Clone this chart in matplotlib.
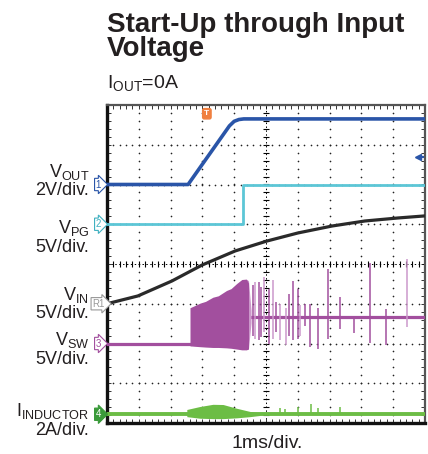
import numpy as np
import matplotlib.pyplot as plt

plt.rcParams['font.family'] = ['Liberation Sans', 'DejaVu Sans']
plt.rcParams['mathtext.fontset'] = 'custom'
plt.rcParams['mathtext.rm'] = 'Liberation Sans'
plt.rcParams['mathtext.it'] = 'Liberation Sans:italic'

# time in ms from the left edge of the screen (1 ms/div)
vout_t = [0, 2.55, 3.85, 4.0, 4.15, 4.3, 10]
vout_v = [0, 0, 2.95, 3.18, 3.27, 3.3, 3.3]

vpg_t = [0, 4.27, 4.27, 10]
vpg_v = [0, 0, 4.9, 4.9]

vin_t = [0.0, 0.97, 2.04, 2.99, 4.03, 5.03, 6.0, 7.08, 8.11, 9.15, 10.0]
vin_v = [0.0, 0.98, 2.86, 4.87, 6.64, 7.89, 8.9, 9.78, 10.41, 10.79, 11.05]

# switch node: quiet, dense switching burst, then settled with pulses
vsw_pre_t = [0, 2.61]
vsw_pre_v = [0, 0]
burst_t = [2.61, 2.75, 2.92, 3.1, 3.33, 3.5, 3.76, 3.9, 4.08, 4.24, 4.38, 4.45]
burst_top = [4.5, 4.75, 5.07, 5.3, 5.82, 6.0, 6.67, 6.9, 7.55, 8.05, 8.1, 7.6]
burst_bot = [-0.3, -0.35, -0.4, -0.45, -0.5, -0.5, -0.55, -0.6, -0.7, -0.8, -0.8, -0.7]
tail_t = [4.38, 4.45, 4.53]
tail_top = [8.1, 7.9, 4.2]
tail_bot = [-0.8, -0.6, 2.6]
vsw_post_t = [4.45, 10]
vsw_post_v = [3.35, 3.35]
spk_t = [4.59, 4.66, 4.77, 4.85, 4.93, 5.08, 5.22, 5.30, 5.43, 5.62, 5.72,
         5.85, 6.01, 6.06, 6.22, 6.39, 6.64, 6.95, 7.34, 7.76, 8.26, 8.78, 9.43]
spk_top = [7.30, 7.71, 7.71, 7.09, 8.34, 6.88, 8.05, 5.20, 4.99, 4.44, 6.25,
           7.80, 6.88, 4.78, 4.99, 4.99, 4.44, 9.39, 5.83, 3.40, 10.15, 4.36, 10.65]
spk_bot = [1.0, 0.59, 0.38, 0.80, 1.43, -0.04, 0.59, 1.43, 0.38, -0.25, 1.0,
           0.38, 0.59, 1.0, 2.26, -0.46, -0.67, 0.59, 1.84, 1.34, 0.08, -0.17, 2.05]
spk_light = [0, 1, 0, 0, 1, 0, 1, 0, 1, 1, 0, 0, 0, 1, 0, 0, 0, 0, 0, 0, 0, 0, 1]

# inductor current (A)
il_t = [0, 10]
il_a = [0, 0]
bump_t = [2.51, 2.92, 3.33, 3.65, 4.08, 4.5, 4.81]
bump_top = [0.24, 0.39, 0.50, 0.49, 0.30, 0.14, 0.05]
bump_bot = [-0.12, -0.2, -0.22, -0.22, -0.18, -0.12, -0.06]
il_spk_t = [5.44, 5.6, 6.0, 6.41, 6.64, 7.33]
il_spk_a = [0.3, 0.25, 0.35, 0.5, 0.3, 0.38]

# channel offset (div) and scale (unit/div)
ch = {
    'vout': (2.0, 2.0),
    'vpg': (1.0, 5.0),
    'vin': (-1.0, 5.0),
    'vsw': (-2.0, 5.0),
    'il': (-3.78, 2.0),
}


def d(name, vals):
    off, sc = ch[name]
    return off + np.asarray(vals, dtype=float) / sc


W, H = 428, 454


def fx(x):
    return x / W


def fy(y):
    return 1 - y / H


fig = plt.figure(figsize=(W / 100, H / 100), dpi=100)
ax = fig.add_axes([fx(107), fy(423), 318 / W, 318 / H])
ax.set_xlim(0, 10)
ax.set_ylim(-4, 4)

# graticule dots
dot = '#222222'
for gx in range(1, 10):
    ys = np.arange(-4, 4.01, 0.2)
    if gx == 5:
        ax.plot(np.full_like(ys, gx), ys, ls='none', marker='_', ms=4, mew=0.8, color='k')
        ax.plot([gx, gx], [-4, 4], ls=(0, (1.5, 2.5)), lw=0.7, color='k')
    else:
        ax.plot(np.full_like(ys, gx), ys, ls='none', marker='o', ms=1.2, mew=0, color=dot)
for gy in range(-3, 4):
    xs = np.arange(0, 10.01, 0.2)
    if gy == 0:
        ax.plot(xs, np.full_like(xs, gy), ls='none', marker='|', ms=4, mew=0.8, color='k')
        ax.plot([0, 10], [gy, gy], ls=(0, (1.5, 2.5)), lw=0.7, color='k')
    else:
        ax.plot(xs, np.full_like(xs, gy), ls='none', marker='o', ms=1.2, mew=0, color=dot)

blue = '#2a55a8'
cyan = '#5cc6d6'
black = '#2a2a2a'
purple = '#a24f9e'
lpurple = '#cc98cb'
green = '#6cbd45'

ax.plot(vin_t, d('vin', vin_v), color=black, lw=2.3, zorder=3)
ax.plot(vpg_t, d('vpg', vpg_v), color=cyan, lw=2.0, zorder=3)
ax.plot(vout_t, d('vout', vout_v), color=blue, lw=2.6, zorder=4)

ax.plot(vsw_pre_t, d('vsw', vsw_pre_v), color=purple, lw=2.3, zorder=3)
ax.plot(vsw_post_t, d('vsw', vsw_post_v), color=purple, lw=2.3, zorder=3)
ax.fill_between(tail_t, d('vsw', tail_bot), d('vsw', tail_top), color=lpurple, lw=0, zorder=3)
ax.fill_between(burst_t, d('vsw', burst_bot), d('vsw', burst_top), color=purple, lw=0, zorder=3)
ax.vlines(spk_t, d('vsw', spk_bot), d('vsw', spk_top),
          colors=[lpurple if s else purple for s in spk_light], lw=1.1, zorder=3)

ax.plot(il_t, d('il', il_a), color=green, lw=2.8, zorder=3)
ax.fill_between(bump_t, d('il', bump_bot), d('il', bump_top), color=green, lw=0, zorder=3)
ax.vlines(il_spk_t, d('il', il_a[0]), d('il', il_spk_a), colors=green, lw=1.1, zorder=3)

# trigger markers
ax.text(3.14, 3.78, 'T', ha='center', va='center', fontsize=6, color='white',
        fontweight='bold', bbox=dict(boxstyle='round,pad=0.2', fc='#f08040', ec='#f08040'),
        zorder=6)
ax.plot([9.78], [2.69], marker='<', ms=5, color=blue, zorder=6)
ax.plot([9.8, 9.95], [2.69, 2.69], color=blue, lw=1.5, zorder=6)

ax.set_xticks([])
ax.set_yticks([])
ax.set_xticks(np.arange(0, 10.01, 0.2), minor=True)
ax.set_yticks(np.arange(-4, 4.01, 0.2), minor=True)
ax.tick_params(which='minor', direction='in', length=3, width=0.7, color='#333333',
               top=True, right=True, labelbottom=False, labelleft=False)
for side in ['left', 'bottom']:
    ax.spines[side].set_linewidth(2.4)
    ax.spines[side].set_color('#111111')
for side in ['top', 'right']:
    ax.spines[side].set_linewidth(1.6)
    ax.spines[side].set_color('#555555')

# channel tags on the left edge
tags = [('vout', '1', blue, 'white'), ('vpg', '2', '#3fb0c0', 'white'),
        ('vin', 'R1', '#999999', 'white'), ('vsw', '3', purple, 'white'),
        ('il', '4', '#3a9a3a', '#3a9a3a')]
for name, lab, ec, fc in tags:
    ax.text(-0.27, ch[name][0], lab, ha='center', va='center', fontsize=7,
            color='white' if fc != 'white' else ec, clip_on=False,
            bbox=dict(boxstyle='rarrow,pad=0.12', fc=fc, ec=ec, lw=0.8))

# text
fig.text(fx(107), fy(32), 'Start-Up through Input', fontsize=20, fontweight='bold',
         color='#231f20', va='baseline')
fig.text(fx(107), fy(56), 'Voltage', fontsize=20, fontweight='bold',
         color='#231f20', va='baseline')
fig.text(fx(107), fy(88), r'I$_{\mathrm{OUT}}$=0A', fontsize=14, color='#231f20', va='baseline')

labels = [(177, r'V$_{\mathrm{OUT}}$'), (195, '2V/div.'),
          (233, r'V$_{\mathrm{PG}}$'), (252, '5V/div.'),
          (300, r'V$_{\mathrm{IN}}$'), (318, '5V/div.'),
          (345, r'V$_{\mathrm{SW}}$'), (364, '5V/div.'),
          (416, r'I$_{\mathrm{INDUCTOR}}$'), (435, '2A/div.')]
for y, s in labels:
    fig.text(fx(89), fy(y), s, fontsize=13, color='#231f20', ha='right', va='baseline')

fig.text(fx(267), fy(448), '1ms/div.', fontsize=14, color='#231f20', ha='center', va='baseline')

fig.savefig('out.png', dpi=100)
